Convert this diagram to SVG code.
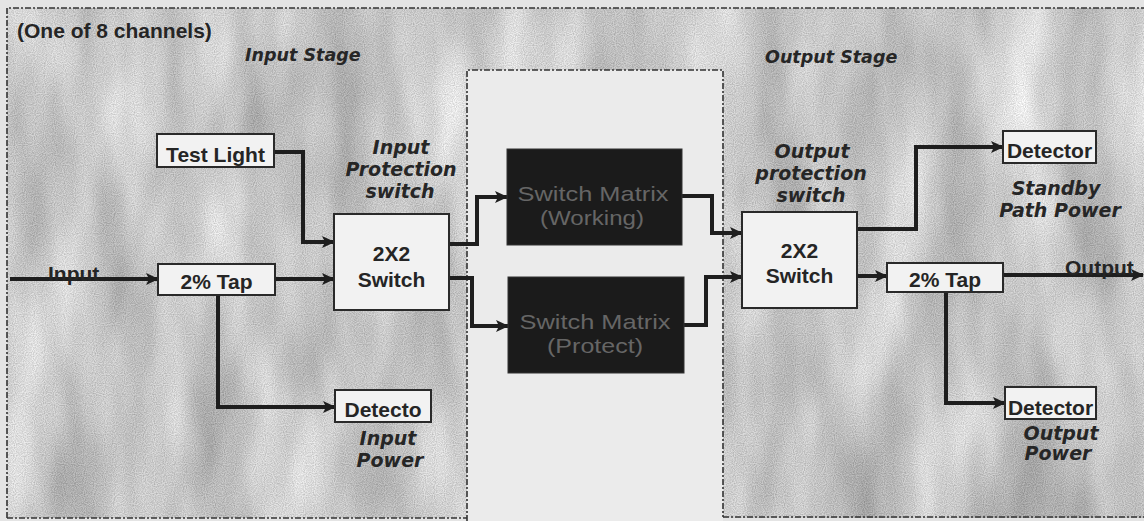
<svg xmlns="http://www.w3.org/2000/svg" width="1144" height="521" viewBox="0 0 1144 521">
<defs>
<filter id="mottle" x="0" y="0" width="100%" height="100%" color-interpolation-filters="sRGB">
<feTurbulence type="fractalNoise" baseFrequency="0.016 0.005" numOctaves="3" seed="7" result="n1"/>
<feColorMatrix in="n1" type="matrix" values="0.55 0 0 0 0.5  0.55 0 0 0 0.5  0.55 0 0 0 0.5  0 0 0 0 1" result="g1"/>
<feTurbulence type="fractalNoise" baseFrequency="0.9" numOctaves="1" seed="2" result="n2"/>
<feColorMatrix in="n2" type="matrix" values="1.2 0 0 0 0.17  1.2 0 0 0 0.17  1.2 0 0 0 0.17  0 0 0 0 1" result="g2"/>
<feComposite in="g1" in2="g2" operator="arithmetic" k1="0" k2="0.72" k3="0.28" k4="0"/>
</filter>
<marker id="arr" markerUnits="userSpaceOnUse" markerWidth="14" markerHeight="14" refX="12" refY="7" orient="auto">
<path d="M0,1 L13,7 L0,13 L3,7 z" fill="#1e1e1e"/>
</marker>
<style>
.border{fill:none;stroke:#333;stroke-width:1.6;stroke-dasharray:6 2 2 2}
.box{fill:#f2f2f2;stroke:#2a2a2a;stroke-width:2}
.mtx{fill:#1b1b1b;stroke:#333;stroke-width:1}
.nt{font-family:"Liberation Sans",Arial,sans-serif;font-weight:bold;font-size:21px;fill:#252525;text-anchor:middle}
.mt{font-family:"Liberation Sans",Arial,sans-serif;font-size:21px;fill:#666;text-anchor:middle}
.it{font-family:"DejaVu Sans",Verdana,sans-serif;font-weight:bold;font-style:italic;font-size:19px;fill:#262626;text-anchor:middle}
.st{font-family:"DejaVu Sans",Verdana,sans-serif;font-weight:bold;font-style:italic;font-size:17.5px;fill:#262626}
.lb{font-family:"Liberation Sans",Arial,sans-serif;font-weight:bold;font-size:21px;fill:#252525}
.conn{fill:none;stroke:#1e1e1e;stroke-width:4;marker-end:url(#arr)}
</style>
</defs>
<rect x="0" y="0" width="1144" height="521" fill="#e4e4e4"/>
<g id="regions">
<rect x="7" y="8" width="1137" height="510" fill="#c4c4c4" filter="url(#mottle)"/>
<rect x="467" y="70" width="256" height="451" fill="#ebebeb"/>
<path class="border" d="M7,518 V8 H1144"/>
<path class="border" d="M7,518 H467"/>
<path class="border" d="M723,517 H1144"/>
<path class="border" d="M467,521 V70 H723 V517"/>
<text class="lb" x="17" y="38">(One of 8 channels)</text>
<text class="st" x="245" y="61">Input Stage</text>
<text class="st" x="765" y="63">Output Stage</text>
</g>
<g id="connectors">
<path class="conn" d="M10,279 H158"/>
<path class="conn" d="M275,279 H334"/>
<path class="conn" d="M218,295 V407 H335"/>
<path class="conn" d="M274,152 H303 V242 H334"/>
<path class="conn" d="M449,244 H477 V197 H507"/>
<path class="conn" d="M449,278 H472 V326 H508"/>
<path class="conn" d="M682,196 H712 V233 H742"/>
<path class="conn" d="M684,325 H706 V277 H742"/>
<path class="conn" d="M857,229 H916 V147 H1003"/>
<path class="conn" d="M857,276 H887"/>
<path class="conn" d="M1003,275 H1143"/>
<path class="conn" d="M946,292 V403 H1005"/>
<text class="lb" x="48" y="281">Input</text>
<text class="lb" x="1065" y="275">Output</text>
</g>
<g id="test-light">
<rect class="box" x="157" y="134" width="117" height="33"/>
<text class="nt" x="215.5" y="162">Test Light</text>
</g>
<g id="input-tap">
<rect class="box" x="158" y="264" width="117" height="31"/>
<text class="nt" x="216.5" y="289">2% Tap</text>
</g>
<g id="input-switch">
<rect class="box" x="334" y="214" width="115" height="96"/>
<text class="nt" x="391.5" y="261">2X2</text>
<text class="nt" x="391.5" y="287">Switch</text>
<text class="it" x="401" y="154">Input</text>
<text class="it" x="401" y="176">Protection</text>
<text class="it" x="400" y="198">switch</text>
</g>
<g id="input-detector">
<rect class="box" x="335" y="390" width="96" height="32"/>
<text class="nt" x="383" y="417">Detecto</text>
<text class="it" x="388" y="445">Input</text>
<text class="it" x="390" y="467">Power</text>
</g>
<g id="matrix-working">
<rect class="mtx" x="507" y="149" width="175" height="96"/>
<text class="mt" x="593" y="201" textLength="151" lengthAdjust="spacingAndGlyphs">Switch Matrix</text>
<text class="mt" x="592" y="225" textLength="104" lengthAdjust="spacingAndGlyphs">(Working)</text>
</g>
<g id="matrix-protect">
<rect class="mtx" x="508" y="277" width="176" height="96"/>
<text class="mt" x="595" y="329" textLength="151" lengthAdjust="spacingAndGlyphs">Switch Matrix</text>
<text class="mt" x="595" y="353" textLength="96" lengthAdjust="spacingAndGlyphs">(Protect)</text>
</g>
<g id="output-switch">
<rect class="box" x="742" y="212" width="115" height="96"/>
<text class="nt" x="799.5" y="258">2X2</text>
<text class="nt" x="799.5" y="283">Switch</text>
<text class="it" x="812" y="158">Output</text>
<text class="it" x="811" y="180">protection</text>
<text class="it" x="811" y="202">switch</text>
</g>
<g id="standby-detector">
<rect class="box" x="1003" y="131" width="93" height="32"/>
<text class="nt" x="1049.5" y="158">Detector</text>
<text class="it" x="1056" y="195">Standby</text>
<text class="it" x="1060" y="217">Path Power</text>
</g>
<g id="output-tap">
<rect class="box" x="887" y="263" width="116" height="29"/>
<text class="nt" x="945" y="287">2% Tap</text>
</g>
<g id="output-detector">
<rect class="box" x="1005" y="387" width="91" height="32"/>
<text class="nt" x="1050.5" y="415">Detector</text>
<text class="it" x="1061" y="440">Output</text>
<text class="it" x="1058" y="460">Power</text>
</g>
</svg>
